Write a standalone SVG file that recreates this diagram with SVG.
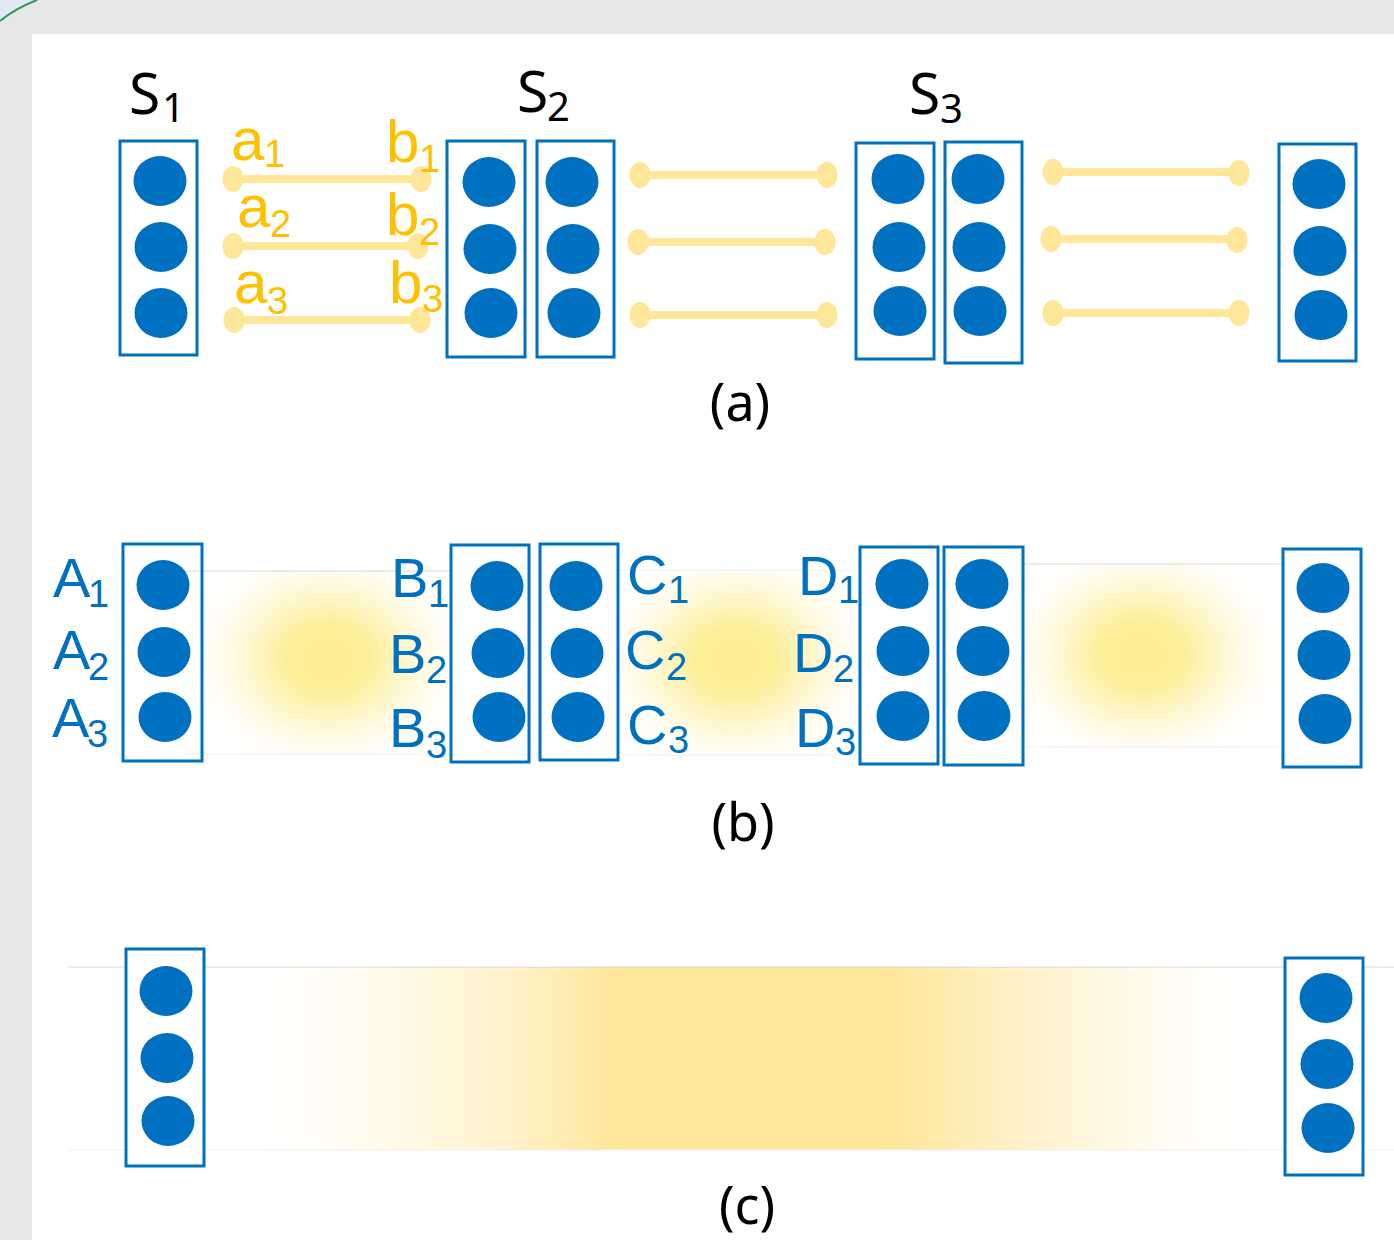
<svg xmlns="http://www.w3.org/2000/svg" width="1394" height="1240" viewBox="0 0 1394 1240">
  <style>
    .box { fill: #ffffff; stroke: #0070c0; stroke-width: 3; }
    .dot { fill: #0070c0; }
    .link { stroke: #ffe699; stroke-width: 8; fill: none; }
    .tip { fill: #ffe699; }
    .stage { font-family: "Noto Sans", "Open Sans", sans-serif; fill: #000000; }
    .cap { font-family: "Noto Sans", "Open Sans", sans-serif; fill: #000000; font-size: 52px; text-anchor: middle; }
    .lbl { font-family: "Liberation Sans", Arial, sans-serif; fill: #0070c0; }
    .ylbl { font-family: "Liberation Sans", Arial, sans-serif; fill: #ffc000; }
    .edgeTop { stroke: #d8d8d8; stroke-width: 1; }
    .edgeSoft { stroke: #efefef; stroke-width: 1; }
  </style>
  <defs>
    <radialGradient id="glow" gradientUnits="objectBoundingBox" cx="0.5" cy="0.5" r="0.5">
      <stop offset="0" stop-color="#fdee94" stop-opacity="1"/>
      <stop offset="0.28" stop-color="#fdee94" stop-opacity="0.95"/>
      <stop offset="0.5" stop-color="#fef0a6" stop-opacity="0.62"/>
      <stop offset="0.7" stop-color="#fff3bd" stop-opacity="0.3"/>
      <stop offset="0.86" stop-color="#fff8d8" stop-opacity="0.1"/>
      <stop offset="1" stop-color="#ffffff" stop-opacity="0"/>
    </radialGradient>
    <linearGradient id="band" gradientUnits="userSpaceOnUse" x1="265" y1="0" x2="1245" y2="0">
      <stop offset="0" stop-color="#ffe699" stop-opacity="0"/>
      <stop offset="0.1" stop-color="#ffe699" stop-opacity="0.15"/>
      <stop offset="0.25" stop-color="#ffe699" stop-opacity="0.5"/>
      <stop offset="0.36" stop-color="#ffe699" stop-opacity="1"/>
      <stop offset="0.63" stop-color="#ffe699" stop-opacity="1"/>
      <stop offset="0.8" stop-color="#ffe699" stop-opacity="0.45"/>
      <stop offset="0.92" stop-color="#ffe699" stop-opacity="0.12"/>
      <stop offset="1" stop-color="#ffe699" stop-opacity="0"/>
    </linearGradient>
    <clipPath id="clip-ab"><rect x="183" y="571" width="295" height="183"/></clipPath>
    <clipPath id="clip-cd"><rect x="590" y="570" width="297" height="185"/></clipPath>
    <clipPath id="clip-out"><rect x="996" y="564" width="297" height="183"/></clipPath>
  </defs>

  <!-- page background, white sheet and corner arc -->
  <rect x="0" y="0" width="1394" height="1240" fill="#e7e7e7"/>
  <path d="M0,0 L37,0 Q16,8 0,21 Z" fill="#e0eaf4"/>
  <path d="M0,21 Q16,8 37,0" fill="none" stroke="#2e9b62" stroke-width="2"/>
  <rect x="32" y="34" width="1362" height="1206" fill="#ffffff"/>

  <!-- (a) stage titles -->
  <g id="title-s1" class="stage">
    <text x="129" y="114" font-size="57">S</text>
    <text x="162" y="122" font-size="40">1</text>
  </g>
  <g id="title-s2" class="stage">
    <text x="517" y="112" font-size="57">S</text>
    <text x="547" y="121" font-size="40">2</text>
  </g>
  <g id="title-s3" class="stage">
    <text x="909" y="114" font-size="57">S</text>
    <text x="940" y="123" font-size="40">3</text>
  </g>

  <!-- (a) connectors -->
  <g id="connectors">
    <line class="link" x1="233" y1="179" x2="421" y2="179"/>
    <ellipse class="tip" cx="233" cy="179" rx="10.5" ry="13"/>
    <ellipse class="tip" cx="421" cy="179" rx="10.5" ry="13"/>
    <line class="link" x1="233" y1="246" x2="418" y2="246"/>
    <ellipse class="tip" cx="233" cy="246" rx="10.5" ry="13"/>
    <ellipse class="tip" cx="418" cy="246" rx="10.5" ry="13"/>
    <line class="link" x1="234" y1="320" x2="420" y2="320"/>
    <ellipse class="tip" cx="234" cy="320" rx="10.5" ry="13"/>
    <ellipse class="tip" cx="420" cy="320" rx="10.5" ry="13"/>

    <line class="link" x1="640" y1="175" x2="827" y2="175"/>
    <ellipse class="tip" cx="640" cy="175" rx="10.5" ry="13"/>
    <ellipse class="tip" cx="827" cy="175" rx="10.5" ry="13"/>
    <line class="link" x1="638" y1="242" x2="825" y2="242"/>
    <ellipse class="tip" cx="638" cy="242" rx="10.5" ry="13"/>
    <ellipse class="tip" cx="825" cy="242" rx="10.5" ry="13"/>
    <line class="link" x1="640" y1="315" x2="827" y2="315"/>
    <ellipse class="tip" cx="640" cy="315" rx="10.5" ry="13"/>
    <ellipse class="tip" cx="827" cy="315" rx="10.5" ry="13"/>

    <line class="link" x1="1053" y1="172" x2="1239" y2="172"/>
    <ellipse class="tip" cx="1053" cy="172" rx="10.5" ry="13"/>
    <ellipse class="tip" cx="1239" cy="173" rx="10.5" ry="13"/>
    <line class="link" x1="1051" y1="239" x2="1237" y2="239"/>
    <ellipse class="tip" cx="1051" cy="239" rx="10.5" ry="13"/>
    <ellipse class="tip" cx="1237" cy="240" rx="10.5" ry="13"/>
    <line class="link" x1="1053" y1="313" x2="1239" y2="313"/>
    <ellipse class="tip" cx="1053" cy="313" rx="10.5" ry="13"/>
    <ellipse class="tip" cx="1239" cy="313" rx="10.5" ry="13"/>
  </g>

  <!-- (a) endpoint labels -->
  <g id="labels-a" class="ylbl">
    <text x="231" y="160" font-size="60">a</text><text x="264" y="167" font-size="38">1</text>
    <text x="237" y="227" font-size="60">a</text><text x="270" y="237" font-size="38">2</text>
    <text x="234" y="303" font-size="60">a</text><text x="267" y="314" font-size="38">3</text>
    <text x="386" y="162" font-size="60">b</text><text x="419" y="172" font-size="38">1</text>
    <text x="386" y="235" font-size="60">b</text><text x="419" y="245" font-size="38">2</text>
    <text x="389" y="303" font-size="60">b</text><text x="422" y="312" font-size="38">3</text>
  </g>

  <!-- (a) layer columns -->
  <g id="a-col1">
    <rect class="box" x="120" y="141" width="77" height="214"/>
    <ellipse class="dot" cx="160" cy="181" rx="26.5" ry="25"/>
    <ellipse class="dot" cx="161" cy="247" rx="26.5" ry="25"/>
    <ellipse class="dot" cx="161" cy="313" rx="26.5" ry="25"/>
  </g>
  <g id="a-col2">
    <rect class="box" x="447" y="141" width="78" height="216"/>
    <ellipse class="dot" cx="489" cy="182" rx="26.5" ry="25"/>
    <ellipse class="dot" cx="490" cy="249" rx="26.5" ry="25"/>
    <ellipse class="dot" cx="491" cy="313" rx="26.5" ry="25"/>
  </g>
  <g id="a-col3">
    <rect class="box" x="537" y="141" width="77" height="216"/>
    <ellipse class="dot" cx="572" cy="182" rx="26.5" ry="25"/>
    <ellipse class="dot" cx="573" cy="249" rx="26.5" ry="25"/>
    <ellipse class="dot" cx="574" cy="313" rx="26.5" ry="25"/>
  </g>
  <g id="a-col4">
    <rect class="box" x="856" y="143" width="78" height="216"/>
    <ellipse class="dot" cx="898" cy="179" rx="26.5" ry="25"/>
    <ellipse class="dot" cx="899" cy="247" rx="26.5" ry="25"/>
    <ellipse class="dot" cx="900" cy="311" rx="26.5" ry="25"/>
  </g>
  <g id="a-col5">
    <rect class="box" x="945" y="142" width="77" height="221"/>
    <ellipse class="dot" cx="978" cy="179" rx="26.5" ry="25"/>
    <ellipse class="dot" cx="979" cy="247" rx="26.5" ry="25"/>
    <ellipse class="dot" cx="980" cy="311" rx="26.5" ry="25"/>
  </g>
  <g id="a-col6">
    <rect class="box" x="1279" y="144" width="77" height="217"/>
    <ellipse class="dot" cx="1319" cy="184" rx="26.5" ry="25"/>
    <ellipse class="dot" cx="1320" cy="251" rx="26.5" ry="25"/>
    <ellipse class="dot" cx="1321" cy="315" rx="26.5" ry="25"/>
  </g>
  <text class="cap" x="740" y="421">(a)</text>

  <!-- (b) soft glows between layers -->
  <g id="glow-ab">
    <ellipse cx="328" cy="658" rx="150" ry="122" fill="url(#glow)" clip-path="url(#clip-ab)"/>
    <line class="edgeTop" x1="183" y1="571" x2="478" y2="571"/>
    <line class="edgeSoft" x1="183" y1="754" x2="478" y2="754"/>
    <line class="edgeSoft" x1="478" y1="571" x2="478" y2="754"/>
  </g>
  <g id="glow-cd">
    <ellipse cx="736" cy="660" rx="150" ry="122" fill="url(#glow)" clip-path="url(#clip-cd)"/>
    <line class="edgeSoft" x1="590" y1="570" x2="887" y2="570"/>
    <line class="edgeSoft" x1="590" y1="755" x2="887" y2="755"/>
    <line class="edgeSoft" x1="590" y1="570" x2="590" y2="755"/>
    <line class="edgeSoft" x1="887" y1="570" x2="887" y2="755"/>
  </g>
  <g id="glow-out">
    <ellipse cx="1142" cy="654" rx="150" ry="122" fill="url(#glow)" clip-path="url(#clip-out)"/>
    <line class="edgeTop" x1="996" y1="564" x2="1293" y2="564"/>
    <line class="edgeSoft" x1="996" y1="747" x2="1293" y2="747"/>
    <line class="edgeSoft" x1="996" y1="564" x2="996" y2="747"/>
  </g>

  <!-- (b) layer columns -->
  <g id="b-col1">
    <rect class="box" x="123" y="544" width="79" height="217" fill-opacity="0"/>
    <ellipse class="dot" cx="163" cy="585" rx="26.5" ry="25"/>
    <ellipse class="dot" cx="164" cy="652" rx="26.5" ry="25"/>
    <ellipse class="dot" cx="165" cy="717" rx="26.5" ry="25"/>
  </g>
  <g id="b-col2">
    <rect class="box" x="451" y="545" width="78" height="217"/>
    <ellipse class="dot" cx="497" cy="586" rx="26.5" ry="25"/>
    <ellipse class="dot" cx="498" cy="653" rx="26.5" ry="25"/>
    <ellipse class="dot" cx="499" cy="717" rx="26.5" ry="25"/>
  </g>
  <g id="b-col3">
    <rect class="box" x="540" y="544" width="78" height="216"/>
    <ellipse class="dot" cx="576" cy="586" rx="26.5" ry="25"/>
    <ellipse class="dot" cx="577" cy="653" rx="26.5" ry="25"/>
    <ellipse class="dot" cx="578" cy="717" rx="26.5" ry="25"/>
  </g>
  <g id="b-col4">
    <rect class="box" x="860" y="547" width="78" height="217"/>
    <ellipse class="dot" cx="902" cy="584" rx="26.5" ry="25"/>
    <ellipse class="dot" cx="903" cy="651" rx="26.5" ry="25"/>
    <ellipse class="dot" cx="903" cy="716" rx="26.5" ry="25"/>
  </g>
  <g id="b-col5">
    <rect class="box" x="944" y="547" width="79" height="218"/>
    <ellipse class="dot" cx="982" cy="584" rx="26.5" ry="25"/>
    <ellipse class="dot" cx="983" cy="651" rx="26.5" ry="25"/>
    <ellipse class="dot" cx="984" cy="716" rx="26.5" ry="25"/>
  </g>
  <g id="b-col6">
    <rect class="box" x="1283" y="549" width="78" height="218"/>
    <ellipse class="dot" cx="1323" cy="588" rx="26.5" ry="25"/>
    <ellipse class="dot" cx="1324" cy="655" rx="26.5" ry="25"/>
    <ellipse class="dot" cx="1325" cy="719" rx="26.5" ry="25"/>
  </g>

  <!-- (b) neuron labels -->
  <g id="labels-b" class="lbl">
    <text x="53" y="597" font-size="56">A</text><text x="88" y="607" font-size="38">1</text>
    <text x="53" y="669" font-size="56">A</text><text x="88" y="680" font-size="38">2</text>
    <text x="52" y="737" font-size="56">A</text><text x="87" y="747" font-size="38">3</text>
    <text x="391" y="597" font-size="56">B</text><text x="428" y="607" font-size="38">1</text>
    <text x="389" y="673" font-size="56">B</text><text x="426" y="683" font-size="38">2</text>
    <text x="389" y="747" font-size="56">B</text><text x="426" y="758" font-size="38">3</text>
    <text x="627" y="594" font-size="56">C</text><text x="668" y="603" font-size="38">1</text>
    <text x="625" y="669" font-size="56">C</text><text x="666" y="680" font-size="38">2</text>
    <text x="627" y="744" font-size="56">C</text><text x="668" y="753" font-size="38">3</text>
    <text x="798" y="595" font-size="56">D</text><text x="838" y="603" font-size="38">1</text>
    <text x="793" y="672" font-size="56">D</text><text x="833" y="682" font-size="38">2</text>
    <text x="795" y="747" font-size="56">D</text><text x="835" y="755" font-size="38">3</text>
  </g>
  <text class="cap" x="743" y="841">(b)</text>

  <!-- (c) single wide glow band -->
  <g id="band-c">
    <rect x="68" y="967" width="1326" height="183" fill="url(#band)"/>
    <line class="edgeTop" x1="68" y1="967" x2="1394" y2="967"/>
    <line class="edgeSoft" x1="68" y1="1150" x2="1394" y2="1150"/>
  </g>
  <g id="c-col1">
    <rect class="box" x="126" y="949" width="78" height="217"/>
    <ellipse class="dot" cx="166" cy="991" rx="26.5" ry="25"/>
    <ellipse class="dot" cx="167" cy="1058" rx="26.5" ry="25"/>
    <ellipse class="dot" cx="168" cy="1121" rx="26.5" ry="25"/>
  </g>
  <g id="c-col2">
    <rect class="box" x="1285" y="958" width="78" height="217"/>
    <ellipse class="dot" cx="1326" cy="998" rx="26.5" ry="25"/>
    <ellipse class="dot" cx="1327" cy="1064" rx="26.5" ry="25"/>
    <ellipse class="dot" cx="1328" cy="1128" rx="26.5" ry="25"/>
  </g>
  <text class="cap" x="747" y="1224">(c)</text>
</svg>
